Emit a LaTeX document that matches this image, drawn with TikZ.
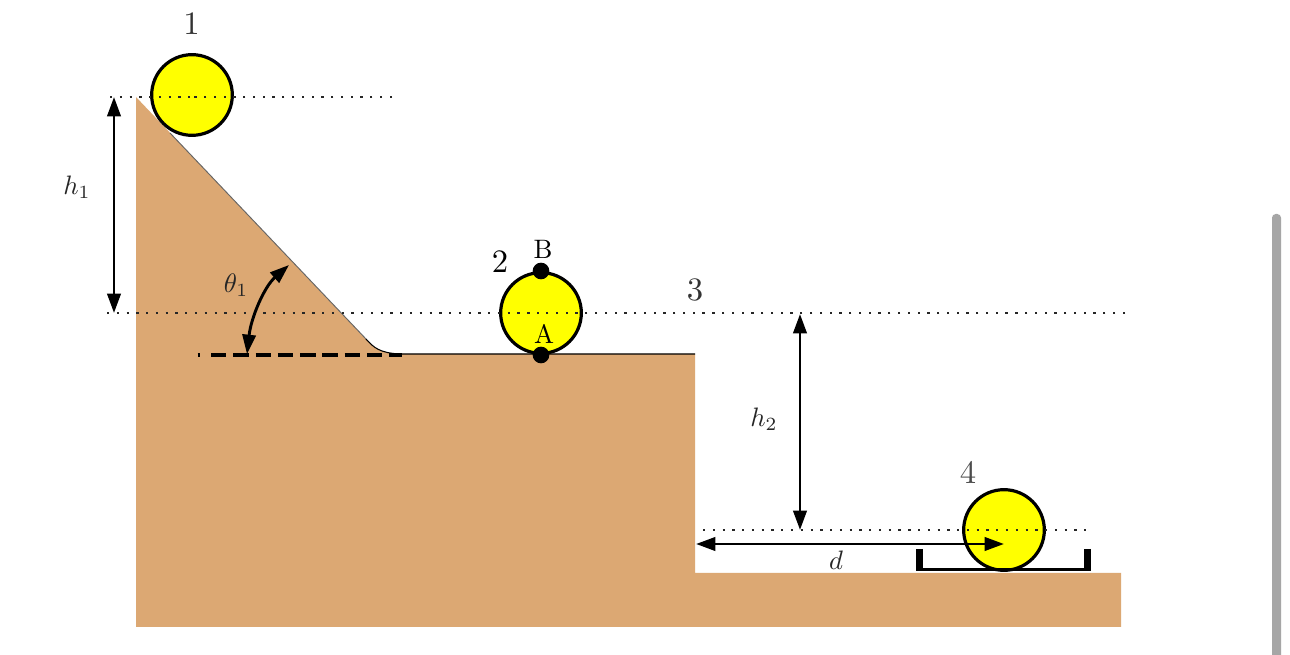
\documentclass[tikz,border=0pt]{standalone}
\usetikzlibrary{arrows.meta}
\definecolor{ground}{HTML}{DCA873}
\definecolor{ballfill}{HTML}{FFFF00}
\definecolor{bar}{HTML}{A6A6A6}
\tikzset{
  ball/.style={circle,draw=black,fill=ballfill,line width=2.4pt,minimum size=60.5pt,inner sep=0pt},
  pin/.style={circle,fill=black,minimum size=12.5pt,inner sep=0pt},
  levelline/.style={draw=black!85,line width=1.7pt,dash pattern=on 1.7pt off 5.63pt},
  dim/.style={line width=2.2pt,{Triangle[length=14.5pt,width=10pt]}-{Triangle[length=14.5pt,width=10pt]}},
  biglabel/.style={text=black!80,inner sep=0pt,scale=2.45},
  smalllabel/.style={text=black!85,inner sep=0pt,scale=2},
}
\begin{document}
\begin{tikzpicture}[x=0.75pt,y=-0.75pt]
\useasboundingbox[fill=white] (0,0) rectangle (1290,655);
% ground
\fill[ground] (136,97) -- (366,339) .. controls (374,348) and (380,353) .. (400,354) -- (695,354) -- (695,573) -- (1121,573) -- (1121,627) -- (136,627) -- cycle;
\draw[black!60,line width=0.7pt] (170,133) -- (366,339);
\draw[black,line width=0.8pt] (366,339) .. controls (374,348) and (380,353) .. (400,354) -- (695,354);
% named points
\coordinate (top) at (114,97);
\coordinate (mid) at (114,313);
\coordinate (midb) at (800,314);
\coordinate (low) at (800,530);
\coordinate (dl) at (696,544);
\coordinate (dr) at (1004,544);
\coordinate (angA) at (247,354);
\coordinate (angB) at (289,265);
\coordinate (L1a) at (110,97);
\coordinate (L1b) at (392,97);
\coordinate (L2a) at (107,313);
\coordinate (L2b) at (1125,313);
\coordinate (L3a) at (703,530);
\coordinate (L3b) at (1088,530);
\coordinate (flatA) at (197.5,355);
\coordinate (flatA2) at (200,355);
\coordinate (flatC) at (211,355);
\coordinate (flatB) at (402,355);
\coordinate (trayLt) at (919.5,549);
\coordinate (trayLb) at (919.5,571.5);
\coordinate (trayRt) at (1087.5,549);
\coordinate (trayRb) at (1087.5,571.5);
\coordinate (trayL) at (922,569.5);
\coordinate (trayR) at (1085,569.5);
% balls
\node[ball] (b1) at (192,95) {};
\node[ball] (b2) at (541,313) {};
\node[ball] (b4) at (1004,530) {};
% level lines
\draw[levelline] (L1a) -- (b1.center |- L1a);
\draw[levelline] (L1b) -- (b1.center |- L1b);
\draw[levelline] (L2a) -- (b2.center);
\draw[levelline] (L2b) -- (b2.center);
\draw[levelline] (L3a) -- (L3b);
% flat dashed line
\draw[line width=2.5pt] (flatA) -- (flatA2);
\draw[line width=2.5pt,dash pattern=on 11.6pt off 5.1pt] (flatC) -- (flatB);
% pins
\node[pin] (pA) at (541,355) {};
\node[pin] (pB) at (541,271) {};
% dimension arrows
\draw[dim] (top) -- (mid);
\draw[dim] (midb) -- (low);
\draw[dim] (dl) -- (dr);
\draw[dim] (angA) .. controls (251,318) and (264,287) .. (angB);
% tray
\draw[line width=5pt] (trayLt) -- (trayLb);
\draw[line width=5pt] (trayRt) -- (trayRb);
\draw[line width=2.6pt] (trayL) -- (trayR);
% labels
\node[biglabel] (n1) at (191.5,24) {1};
\node[biglabel,text=black] (n2) at (500,262) {2};
\node[biglabel] (n3) at (695,290) {3};
\node[biglabel,text=black!70] (n4) at (968,472) {4};
\node[smalllabel,text=black] (nB) at (543,249) {B};
\node[smalllabel,text=black] (nA) at (544,334) {A};
\node[smalllabel] (th) at (236,285) {$\theta_1$};
\node[smalllabel] (h1) at (77,187) {$h_1$};
\node[smalllabel] (h2) at (764,419) {$h_2$};
\node[smalllabel] (nd) at (836,560) {$d$};
% scrollbar
\fill[bar,rounded corners=2.8pt] (1272,670) -- (1272,214) -- (1281,214) -- (1281,670) -- cycle;
\end{tikzpicture}
\end{document}
